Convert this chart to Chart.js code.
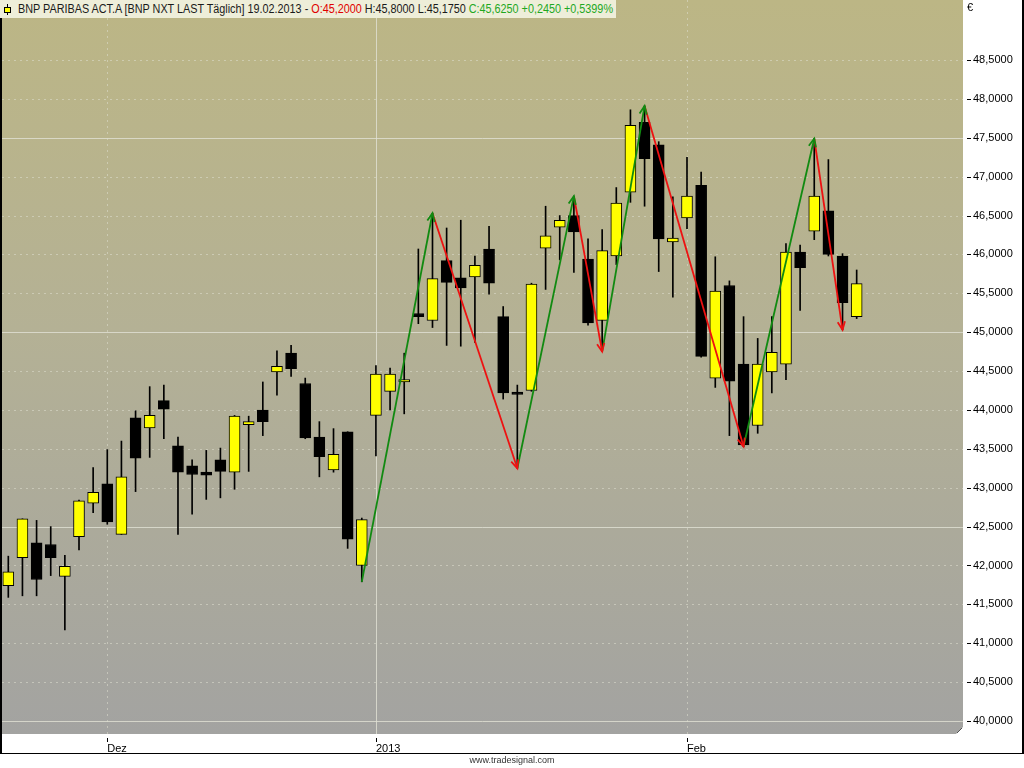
<!DOCTYPE html>
<html><head><meta charset="utf-8">
<script src="https://cdn.jsdelivr.net/npm/chart.js@4"></script>
<style>
html,body{margin:0;padding:0;background:#fff;width:1024px;height:768px;overflow:hidden}
#wrap{position:relative;width:1024px;height:768px}
#c{position:absolute;left:0;top:0}
#hdr{position:absolute;left:0;top:0;height:18px;width:616px;background:#EEEED9;overflow:hidden}
#ic{position:absolute;left:4px;top:4px;width:7px;height:11px}
#ic .w{position:absolute;left:3px;top:0;width:1px;height:11px;background:#000}
#ic .b{position:absolute;left:0;top:3px;width:5px;height:4px;background:#ffff00;border:1px solid #000}
#ht{position:absolute;left:18px;top:2px;font:12px 'Liberation Sans',Arial,sans-serif;line-height:14px;white-space:nowrap;color:#1a1a1a;transform-origin:0 0}
#eur{position:absolute;left:967px;top:1px;font:11px 'Liberation Sans',Arial,sans-serif;color:#000}
#wm{position:absolute;left:0;width:1024px;top:755px;text-align:center;font:9px 'Liberation Sans',Arial,sans-serif;color:#333}
</style></head>
<body><div id="wrap">
<canvas id="c" width="1024" height="768"></canvas>
<div id="hdr"><span id="ic"><i class="w"></i><i class="b"></i></span><span id="ht"></span></div>
<div id="eur">€</div>
<div id="wm">www.tradesignal.com</div>
</div>
<script>
const title = 'BNP PARIBAS ACT.A [BNP NXT LAST Täglich]';
const dates = ['22.11.2012','23.11.2012','26.11.2012','27.11.2012','28.11.2012','29.11.2012','30.11.2012',
'03.12.2012','04.12.2012','05.12.2012','06.12.2012','07.12.2012','10.12.2012','11.12.2012','12.12.2012','13.12.2012','14.12.2012',
'17.12.2012','18.12.2012','19.12.2012','20.12.2012','21.12.2012','24.12.2012','27.12.2012','28.12.2012','31.12.2012',
'02.01.2013','03.01.2013','04.01.2013','07.01.2013','08.01.2013','09.01.2013','10.01.2013','11.01.2013','14.01.2013','15.01.2013',
'16.01.2013','17.01.2013','18.01.2013','21.01.2013','22.01.2013','23.01.2013','24.01.2013','25.01.2013','28.01.2013','29.01.2013',
'30.01.2013','31.01.2013','01.02.2013','04.02.2013','05.02.2013','06.02.2013','07.02.2013','08.02.2013','11.02.2013','12.02.2013',
'13.02.2013','14.02.2013','15.02.2013','18.02.2013','19.02.2013'];
const opens  = [41.74,42.10,42.29,42.27,41.86,42.37,42.80,43.05,42.40,43.90,43.77,44.12,43.54,43.28,43.20,43.36,43.20,43.81,44.00,44.49,
44.73,44.34,43.65,43.23,43.72,42.00,43.93,44.24,44.36,45.24,45.15,45.92,45.70,45.71,46.07,45.20,44.23,44.25,46.08,46.35,
46.50,45.94,45.15,45.98,46.80,47.70,47.41,46.16,46.47,46.89,44.41,45.60,44.59,43.80,44.49,44.59,46.03,46.30,46.56,45.98,45.20];
const highs  = [42.12,42.60,42.58,42.50,42.13,42.84,43.26,43.49,43.60,43.99,44.30,44.32,43.65,43.36,43.48,43.51,43.93,43.92,44.36,44.76,
44.83,44.41,43.85,43.76,43.72,42.61,44.57,44.54,44.73,46.07,46.53,46.34,46.44,45.98,46.36,45.33,44.32,45.63,46.62,46.50,
46.75,46.20,46.32,46.86,47.86,47.91,47.45,46.74,47.25,47.06,45.97,45.66,45.20,44.92,45.20,46.14,46.12,47.49,47.22,46.01,45.80];
const lows   = [41.59,41.61,41.61,41.87,41.17,42.20,42.68,42.53,42.40,42.95,43.39,43.63,42.40,42.66,42.85,42.87,42.98,43.21,43.67,44.19,
44.43,43.63,43.14,43.20,42.22,41.79,43.41,44.00,43.95,45.11,45.06,44.83,44.82,44.87,45.49,44.14,43.25,44.24,45.55,45.93,
45.77,45.09,44.75,45.87,46.67,46.62,45.78,45.45,46.33,44.68,44.29,43.67,43.53,43.70,44.22,44.39,45.28,46.19,45.98,45.03,45.175];
const closes = [41.92,42.60,41.82,42.10,41.99,42.83,42.94,42.56,43.14,43.38,43.93,44.01,43.20,43.17,43.16,43.21,43.92,43.85,43.85,44.56,
44.53,43.64,43.40,43.43,42.34,42.59,44.46,44.46,44.39,45.20,45.69,45.64,45.57,45.86,45.63,44.22,44.20,45.62,46.24,46.44,
46.29,45.12,46.05,46.66,47.66,47.23,46.20,46.21,46.75,44.69,45.53,44.37,43.55,44.59,44.74,46.03,45.83,46.75,46.00,45.38,45.625];
// zigzag pivots (candle index); first pivot is a low, then alternating
const zigIdx = [25,30,36,40,42,45,52,57,59];
const tickIdx = [7,26,48];
const tickLabels = ['Dez','2013','Feb'];

const fmt = v => v.toFixed(4).replace('.', ',');
// header
(function(){
  const n = closes.length-1;
  const chg = closes[n]-closes[n-1];
  const pct = chg/closes[n-1]*100;
  const s = (chg>=0?'+':'');
  document.getElementById('ht').innerHTML = title + ' ' + dates[n] + ' - ' +
    '<span style="color:#e00000">O:' + fmt(opens[n]) + '</span> H:' + fmt(highs[n]) + ' L:' + fmt(lows[n]) +
    ' <span style="color:#1fa81f">C:' + fmt(closes[n]) + ' ' + s + fmt(chg) + ' ' + s + fmt(pct) + '%</span>';
  const el = document.getElementById('ht');
  const w = el.getBoundingClientRect().width;
  el.style.transform = 'scaleX(' + (595 / w) + ')';
})();

const wickData = dates.map((d,i)=>({x:i, y:[lows[i], highs[i]]}));
const bodyData = dates.map((d,i)=>({x:i, y:[opens[i], closes[i]]}));
const bodyColors = dates.map((d,i)=> closes[i] >= opens[i] ? '#ffff00' : '#000000');
const zigVals = zigIdx.map((ix,k)=> k%2===0 ? lows[ix] : highs[ix]);
const zigSets = [];
for (let k=0;k<zigIdx.length-1;k++){
  const up = zigVals[k+1] > zigVals[k];
  zigSets.push({type:'line', zig:true, data:[{x:zigIdx[k],y:zigVals[k]},{x:zigIdx[k+1],y:zigVals[k+1]}],
    borderColor: up ? '#118a11' : '#ee1111', borderWidth:1.8, pointRadius:0, fill:false, order:0, tension:0});
}

const deco = {
  id:'deco',
  beforeDraw(chart){
    const {ctx, chartArea:a} = chart;
    ctx.save();
    ctx.fillStyle = '#fff';
    ctx.fillRect(0,0,chart.width,chart.height);
    const g = ctx.createLinearGradient(0,a.top,0,a.bottom);
    g.addColorStop(0,'#bcb685');
    g.addColorStop(0.45,'#b4b195');
    g.addColorStop(1,'#a3a3a1');
    ctx.fillStyle = g;
    ctx.fillRect(a.left,a.top,a.right-a.left,a.bottom-a.top);
    ctx.restore();
  },
  beforeDatasetsDraw(chart){
    const {ctx, chartArea:a, scales:{x,y}} = chart;
    ctx.save();
    ctx.lineWidth = 1;
    y.ticks.forEach(t=>{
      const py = Math.round(y.getPixelForValue(t.value))+0.5;
      const major = Math.abs(t.value/2.5 - Math.round(t.value/2.5))<1e-6;
      ctx.strokeStyle = major ? 'rgba(225,225,212,0.8)' : 'rgba(222,222,208,0.55)';
      ctx.setLineDash(major ? [] : [2,4]);
      ctx.beginPath(); ctx.moveTo(a.left,py); ctx.lineTo(a.right,py); ctx.stroke();
    });
    x.ticks.forEach(t=>{
      const px = Math.round(x.getPixelForValue(t.value))+0.5;
      const major = tickLabels[tickIdx.indexOf(t.value)] === '2013';
      ctx.strokeStyle = major ? 'rgba(225,225,212,0.8)' : 'rgba(222,222,208,0.55)';
      ctx.setLineDash(major ? [] : [2,4]);
      ctx.beginPath(); ctx.moveTo(px,a.top); ctx.lineTo(px,a.bottom); ctx.stroke();
    });
    ctx.restore();
  },
  afterDatasetsDraw(chart){
    const {ctx} = chart;
    ctx.save();
    chart.data.datasets.forEach((ds,i)=>{
      if(!ds.zig) return;
      const pts = chart.getDatasetMeta(i).data;
      const p0 = pts[0], p1 = pts[1];
      const ang = Math.atan2(p1.y-p0.y, p1.x-p0.x);
      const L = 9, th = 0.42;
      ctx.strokeStyle = ds.borderColor; ctx.lineWidth = 1.8; ctx.setLineDash([]);
      ctx.beginPath();
      ctx.moveTo(p1.x - L*Math.cos(ang-th), p1.y - L*Math.sin(ang-th));
      ctx.lineTo(p1.x, p1.y);
      ctx.lineTo(p1.x - L*Math.cos(ang+th), p1.y - L*Math.sin(ang+th));
      ctx.stroke();
    });
    ctx.restore();
  },
  afterDraw(chart){
    const {ctx, chartArea:a, scales:{x,y}} = chart;
    ctx.save();
    ctx.strokeStyle = '#000'; ctx.lineWidth = 1;
    y.ticks.forEach(t=>{
      const py = Math.round(y.getPixelForValue(t.value))+0.5;
      ctx.beginPath(); ctx.moveTo(a.right+4,py); ctx.lineTo(a.right+8,py); ctx.stroke();
    });
    x.ticks.forEach(t=>{
      const px = Math.round(x.getPixelForValue(t.value))+0.5;
      ctx.beginPath(); ctx.moveTo(px,a.bottom+4); ctx.lineTo(px,a.bottom+8); ctx.stroke();
    });
    // frame
    ctx.fillStyle = '#000';
    ctx.fillRect(0,0,2,754);
    ctx.fillRect(0,753,1024,1);
    ctx.fillRect(1022,0,2,754);
    // resize grip
    ctx.fillStyle = '#fff';
    ctx.beginPath(); ctx.moveTo(a.right,a.bottom-7); ctx.lineTo(a.right,a.bottom); ctx.lineTo(a.right-7,a.bottom); ctx.closePath(); ctx.fill();
    ctx.strokeStyle = '#555';
    ctx.beginPath(); ctx.moveTo(a.right-1,a.bottom-6); ctx.lineTo(a.right-6,a.bottom-1); ctx.stroke();
    ctx.restore();
  }
};

new Chart(document.getElementById('c'), {
  type:'bar',
  data:{datasets:[
    ...zigSets,
    {label:'body', data:bodyData, backgroundColor:bodyColors, borderColor:'#000', borderWidth:1, borderSkipped:false,
      barThickness:11, grouped:false, order:1},
    {label:'wick', data:wickData, backgroundColor:'#000', borderWidth:0, barThickness:1, grouped:false, order:2}
  ]},
  options:{
    responsive:false, animation:false, events:[],
    layout:{padding:{left:2,right:2,top:0,bottom:15}},
    plugins:{legend:{display:false}, tooltip:{enabled:false}, title:{display:false}},
    scales:{
      x:{type:'linear', position:'bottom', min:-0.446, max:67.52, offset:false,
        grid:{display:false, drawTicks:false}, border:{display:false},
        afterBuildTicks: s => { s.ticks = tickIdx.map(v=>({value:v})); },
        afterFit: s => { s.height = 19; s.paddingLeft = 0; s.paddingRight = 0; },
        ticks:{autoSkip:false, maxRotation:0, align:'start', padding:8, color:'#000',
          font:{family:'Liberation Sans', size:11},
          callback: v => { const k = tickIdx.indexOf(v); return k>=0 ? tickLabels[k] : ''; }}
      },
      y:{type:'linear', position:'right', min:39.833, max:49.272,
        grid:{display:false, drawTicks:false}, border:{display:false},
        afterBuildTicks: s => { s.ticks = s.ticks.filter(t => t.value >= 40 - 1e-9 && t.value <= 48.5 + 1e-9); },
        afterFit: s => { s.width = 59; s.paddingTop = 0; s.paddingBottom = 0; },
        ticks:{stepSize:0.5, includeBounds:false, padding:10, color:'#000',
          font:{family:'Liberation Sans', size:11}, callback: v => fmt(v)}
      }
    }
  },
  plugins:[deco]
});
</script>
</body></html>
